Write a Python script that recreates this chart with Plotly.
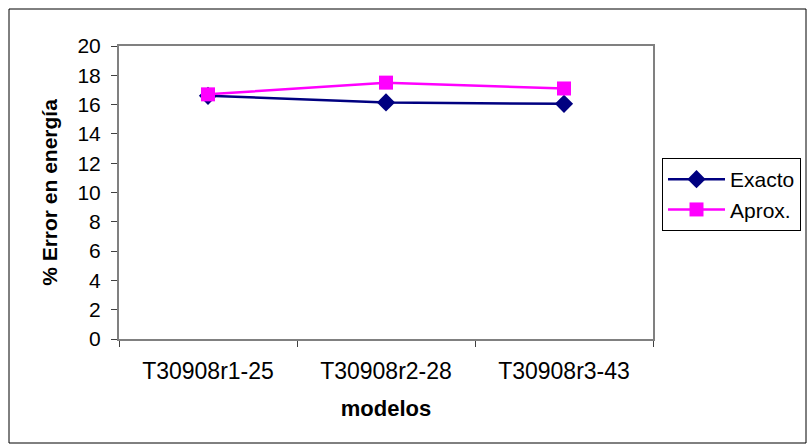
import plotly.graph_objects as go

categories = ["T30908r1-25", "T30908r2-28", "T30908r3-43"]
exacto = [16.6, 16.15, 16.05]
aprox = [16.7, 17.5, 17.1]
y_ticks = [0, 2, 4, 6, 8, 10, 12, 14, 16, 18, 20]

W, H = 809, 446
L, R, T, B = 119, 653, 46, 339

def px_x(x):
    return (x - L) / (R - L)

def px_y(y):
    return (B - y) / (B - T)

FAM = "Liberation Sans, Arial, sans-serif"

fig = go.Figure()
fig.add_trace(go.Scatter(
    x=categories, y=exacto, name="Exacto", mode="lines+markers",
    line=dict(color="#000080", width=2.5),
    marker=dict(symbol="diamond", size=14, color="#000080"),
))
fig.add_trace(go.Scatter(
    x=categories, y=aprox, name="Aprox.", mode="lines+markers",
    line=dict(color="#FF00FF", width=2.5),
    marker=dict(symbol="square", size=14, color="#FF00FF"),
))

fig.update_layout(
    width=W, height=H,
    margin=dict(l=L, r=W - R, t=T, b=H - B, autoexpand=False),
    paper_bgcolor="white", plot_bgcolor="white",
    font=dict(family=FAM, size=21, color="black"),
    showlegend=True,
    legend=dict(
        x=px_x(662), y=px_y(158), xanchor="left", yanchor="top",
        bordercolor="black", borderwidth=1, bgcolor="white",
        font=dict(family=FAM, size=21),
        tracegroupgap=0, itemwidth=57,
    ),
    xaxis=dict(
        type="category", range=[-0.5, 2.5], tickson="boundaries",
        ticks="outside", ticklen=6, tickcolor="#404040",
        showline=True, linecolor="#808080", linewidth=2, mirror=True,
        showgrid=False, zeroline=False,
        ticklabelstandoff=10,
        title=dict(text="<b>modelos</b>", font=dict(family=FAM, size=22), standoff=18),
        tickfont=dict(family=FAM, size=23),
    ),
    yaxis=dict(
        range=[0, 20], tickvals=y_ticks, ticks="outside", ticklen=6,
        tickcolor="#404040",
        showline=True, linecolor="#808080", linewidth=2, mirror=True,
        showgrid=False, zeroline=False,
        ticklabelstandoff=6,
        title=dict(text="<b>% Error en energía</b>", font=dict(family=FAM, size=21), standoff=14),
        tickfont=dict(family=FAM, size=21),
    ),
    shapes=[dict(
        type="rect", xref="paper", yref="paper",
        x0=px_x(9), x1=px_x(806), y0=px_y(443), y1=px_y(9),
        line=dict(color="black", width=1), layer="below",
    )],
)

fig.write_html("out.html")
